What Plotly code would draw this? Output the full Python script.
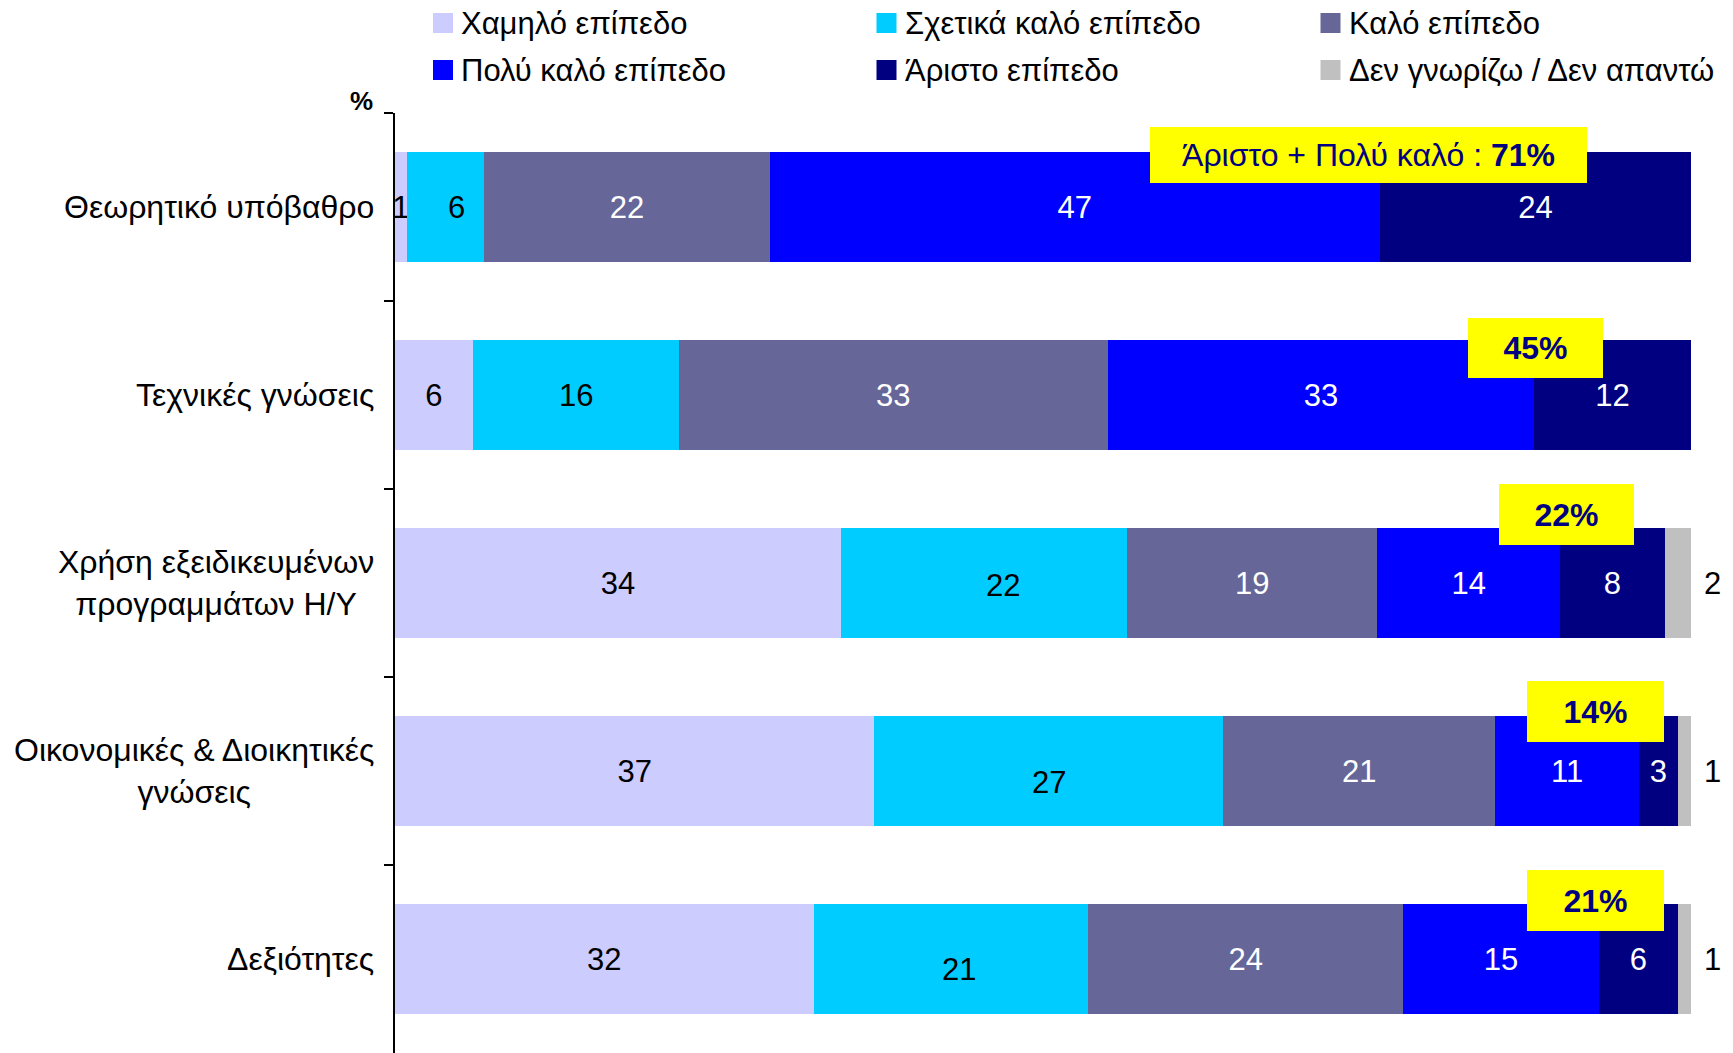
import plotly.graph_objects as go

# ---------------- data ----------------
categories = [
    "Θεωρητικό υπόβαθρο",
    "Τεχνικές γνώσεις",
    "Χρήση εξειδικευμένων<br>προγραμμάτων Η/Υ",
    "Οικονομικές & Διοικητικές<br>γνώσεις",
    "Δεξιότητες",
]
series_names = [
    "Χαμηλό επίπεδο",
    "Σχετικά καλό επίπεδο",
    "Καλό επίπεδο",
    "Πολύ καλό επίπεδο",
    "Άριστο επίπεδο",
    "Δεν γνωρίζω / Δεν απαντώ",
]
low = [0.9, 6.0, 34.4, 37.0, 32.3]
fair = [6.0, 15.9, 22.1, 26.9, 21.2]
good = [22.0, 33.1, 19.3, 21.0, 24.3]
very_good = [47.1, 32.9, 14.1, 11.1, 15.1]
excellent = [24.0, 12.1, 8.1, 3.0, 6.1]
dk_na = [None, None, 2.0, 1.0, 1.0]
box_prefix = ["Άριστο + Πολύ καλό : ", "", "", "", ""]

series_values = [low, fair, good, very_good, excellent, dk_na]

# ---------------- style ----------------
W_TOT, H_TOT = 1733, 1053
M_L, M_R, M_T, M_B = 395, 0, 113, 0
PW = W_TOT - M_L - M_R
PH = H_TOT - M_T - M_B
X_MAX = 103.25
FONT = "Arial, Liberation Sans, sans-serif"
colors = ["#CCCCFF", "#00CCFF", "#666699", "#0000FF", "#000080", "#C0C0C0"]
text_colors = ["black", "black", "white", "white", "white", "black"]
NAVY = "#000080"
VAL_SIZE = 31

# label offsets (px) used by the original for the "fair" series labels
fair_label_dx = [11, 0, 19, 0, 8]
fair_label_dy = [0, 0, 2, 11, 10]

# yellow highlight boxes (pixel centre & size)
box_style = [
    dict(cx=1368, cy=155, w=437, h=56),
    dict(cx=1535, cy=348, w=135, h=60),
    dict(cx=1566.5, cy=514.5, w=135, h=61),
    dict(cx=1595.5, cy=711, w=137, h=61),
    dict(cx=1595.5, cy=900.5, w=137, h=61),
]


def px2x(px):
    return (px - M_L) / PW


def py2y(py):
    return (H_TOT - M_B - py) / PH


fig = go.Figure()

for idx, (name, vals, col, tcol) in enumerate(zip(series_names, series_values, colors, text_colors)):
    no_inside = idx in (1, 5)  # fair -> annotations ; dk/na -> outside annotations
    txt = ["" if (v is None or no_inside) else f"{v:.0f}" for v in vals]
    fig.add_trace(go.Bar(
        y=categories,
        x=vals,
        name=name,
        orientation="h",
        marker=dict(color=col, line=dict(width=0)),
        text=txt,
        textposition="inside",
        insidetextanchor="middle",
        textangle=0,
        constraintext="none",
        textfont=dict(family=FONT, size=VAL_SIZE, color=tcol),
        hoverinfo="skip",
        showlegend=False,
        cliponaxis=False,
    ))

annotations = []

# category labels (centred lines, right-aligned block)
for cat in categories:
    annotations.append(dict(
        xref="paper", yref="y", x=0, y=cat, xanchor="right", yanchor="middle",
        xshift=-19, text=cat, align="center", showarrow=False,
        font=dict(family=FONT, size=32, color="black"),
    ))

# "fair" series labels
for i, cat in enumerate(categories):
    mid = low[i] + fair[i] / 2
    annotations.append(dict(
        xref="x", yref="y", x=mid, y=cat, xanchor="center", yanchor="middle",
        xshift=fair_label_dx[i], yshift=-fair_label_dy[i],
        text=f"{fair[i]:.0f}", showarrow=False,
        font=dict(family=FONT, size=VAL_SIZE, color=text_colors[1]),
    ))

# outside labels for "don't know"
totals = [sum(v[i] for v in series_values if v[i] is not None) for i in range(len(categories))]
for i, cat in enumerate(categories):
    v = dk_na[i]
    if v is None:
        continue
    annotations.append(dict(
        xref="x", yref="y", x=totals[i], y=cat, xanchor="left", yanchor="middle",
        xshift=11, text=f"{v:.0f}", showarrow=False,
        font=dict(family=FONT, size=VAL_SIZE, color="black"),
    ))

# yellow "excellent + very good" boxes
for i, cat in enumerate(categories):
    s = very_good[i] + excellent[i]
    b = box_style[i]
    annotations.append(dict(
        xref="paper", yref="paper", x=px2x(b["cx"]), y=py2y(b["cy"]),
        xanchor="center", yanchor="middle",
        text=f"{box_prefix[i]}<b>{s:.0f}%</b>",
        width=b["w"], height=b["h"], borderpad=0, borderwidth=0,
        bgcolor="#FFFF00", align="center", valign="middle", showarrow=False,
        font=dict(family=FONT, size=32, color=NAVY),
    ))

# "%" marker at top of axis
annotations.append(dict(
    xref="paper", yref="paper", x=px2x(361.5), y=py2y(101), xanchor="center", yanchor="middle",
    text="<b>%</b>", showarrow=False, font=dict(family=FONT, size=26, color="black"),
))

# manual legend (3 columns x 2 rows)
leg_cols = [433, 876.5, 1320.5]
leg_rows = [23, 70]
shapes = []
for k, (name, col) in enumerate(zip(series_names, colors)):
    cx = leg_cols[k % 3]
    cy = leg_rows[k // 3]
    shapes.append(dict(
        type="rect", xref="paper", yref="paper",
        x0=px2x(cx), x1=px2x(cx + 20), y0=py2y(cy + 10), y1=py2y(cy - 10),
        fillcolor=col, line=dict(width=0),
    ))
    annotations.append(dict(
        xref="paper", yref="paper", x=px2x(cx + 26), y=py2y(cy), xanchor="left", yanchor="middle",
        text=name, showarrow=False, font=dict(family=FONT, size=31, color="black"),
    ))

fig.update_layout(
    width=W_TOT, height=H_TOT,
    margin=dict(l=M_L, r=M_R, t=M_T, b=M_B, pad=0),
    barmode="stack",
    bargap=0.413,
    plot_bgcolor="white",
    paper_bgcolor="white",
    font=dict(family=FONT, color="black"),
    showlegend=False,
    annotations=annotations,
    shapes=shapes,
    xaxis=dict(range=[0, X_MAX], visible=False, fixedrange=True),
    yaxis=dict(
        type="category",
        autorange="reversed",
        showticklabels=False,
        showgrid=False,
        zeroline=False,
        showline=True,
        linecolor="black",
        linewidth=2,
        ticks="outside",
        tickson="boundaries",
        ticklen=9,
        tickwidth=1.5,
        tickcolor="black",
        fixedrange=True,
    ),
)

fig.write_html(
    "out.html",
    config={"displayModeBar": False},
    post_script="document.body.style.margin='0';document.body.style.overflow='hidden';",
)
